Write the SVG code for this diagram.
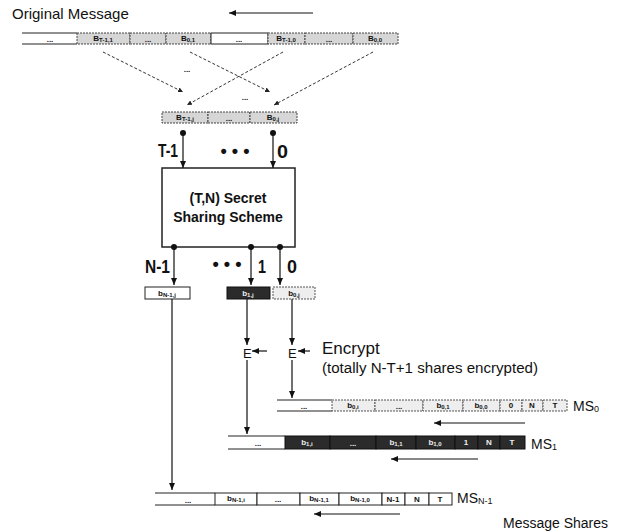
<svg xmlns="http://www.w3.org/2000/svg" width="621" height="531" viewBox="0 0 621 531">
<style>
text{font-family:"Liberation Sans",Arial,sans-serif;fill:#111}
.lbl{font-size:15px}
.big{font-size:18px;font-weight:bold}
.box{font-size:14px;font-weight:bold}
.c{font-size:8px;font-weight:bold;text-anchor:middle}
.cw{font-size:8px;font-weight:bold;text-anchor:middle;fill:#eee}
.s{font-size:6px}
.g{fill:#d6d6d6;stroke:#444;stroke-width:1;stroke-dasharray:2 1}
.lg{fill:#eeeeee;stroke:#555;stroke-width:1;stroke-dasharray:2 1}
.w{fill:#fff;stroke:#222;stroke-width:1}
.d{fill:#2b2b2b;stroke:#111;stroke-width:1}
.rail{stroke:#222;stroke-width:1;fill:none}
.ln{stroke:#111;stroke-width:1.2;fill:none}
.dash{stroke:#333;stroke-width:1;stroke-dasharray:3 2;fill:none}
</style>
<defs>
<marker id="ah" markerWidth="8" markerHeight="8" refX="7" refY="4" orient="auto" markerUnits="userSpaceOnUse"><path d="M0,1 L7,4 L0,7 z" fill="#111"/></marker>
<marker id="ahs" markerWidth="6" markerHeight="6" refX="5" refY="3" orient="auto" markerUnits="userSpaceOnUse"><path d="M0,0.5 L5,3 L0,5.5 z" fill="#222"/></marker>
</defs>

<g id="title">
<text class="lbl" x="12" y="19">Original Message</text>
</g>

<g id="original-message">
<path class="rail" d="M22,33 H77 M22,44 H77"/>
<text class="c" x="50" y="42">...</text>
<rect class="g" x="77" y="33" width="53" height="11"/>
<text class="c" x="103" y="41">B<tspan class="s" dy="1">T-1,1</tspan></text>
<rect class="g" x="130" y="33" width="36" height="11"/>
<text class="c" x="148" y="42">...</text>
<rect class="g" x="166" y="33" width="45" height="11"/>
<text class="c" x="188" y="41">B<tspan class="s" dy="1">0,1</tspan></text>
<rect class="w" x="211" y="33" width="57" height="11"/>
<text class="c" x="239" y="42">...</text>
<rect class="g" x="268" y="33" width="37" height="11"/>
<text class="c" x="286" y="41">B<tspan class="s" dy="1">T-1,0</tspan></text>
<rect class="g" x="305" y="33" width="48" height="11"/>
<text class="c" x="329" y="42">...</text>
<rect class="g" x="353" y="33" width="45" height="11"/>
<text class="c" x="375" y="41">B<tspan class="s" dy="1">0,0</tspan></text>
</g>

<g id="block-j">
<rect class="g" x="162" y="112" width="46" height="11"/>
<text class="c" x="185" y="120">B<tspan class="s" dy="1">T-1,j</tspan></text>
<rect class="g" x="208" y="112" width="42" height="11"/>
<text class="c" x="229" y="121">...</text>
<rect class="g" x="250" y="112" width="47" height="11"/>
<text class="c" x="273" y="120">B<tspan class="s" dy="1">0,j</tspan></text>
</g>

<g id="sss">
<rect x="162" y="168" width="133" height="79" fill="#fff" stroke="#222" stroke-width="1.5"/>
<text class="box" x="228" y="203" text-anchor="middle">(T,N) Secret</text>
<text class="box" x="228" y="222" text-anchor="middle">Sharing Scheme</text>
</g>

<g id="share-n1">
<rect class="w" x="145" y="287" width="45" height="12"/>
<text class="c" x="167" y="296">b<tspan class="s" dy="1">N-1,j</tspan></text>
</g>
<g id="share-1">
<rect class="d" x="227" y="287" width="43" height="12"/>
<text class="cw" x="248" y="296">b<tspan class="s" dy="1">1,j</tspan></text>
</g>
<g id="share-0">
<rect class="lg" x="273" y="287" width="42" height="12"/>
<text class="c" x="294" y="296">b<tspan class="s" dy="1">0,j</tspan></text>
</g>

<g id="encrypt-1"><text x="243" y="358" font-size="13">E</text></g>
<g id="encrypt-0"><text x="288" y="358" font-size="13">E</text></g>
<g id="encrypt-label">
<text x="322" y="354" font-size="17">Encrypt</text>
<text x="322" y="373" font-size="14" textLength="216" lengthAdjust="spacingAndGlyphs">(totally N-T+1 shares encrypted)</text>
</g>

<g id="ms0">
<path class="rail" d="M277,400 H332 M277,411 H332"/>
<text class="c" x="304" y="409">...</text>
<rect class="lg" x="332" y="400" width="43" height="11"/>
<text class="c" x="353" y="408">b<tspan class="s" dy="1">0,i</tspan></text>
<rect class="lg" x="375" y="400" width="48" height="11"/>
<text class="c" x="399" y="409">...</text>
<rect class="lg" x="423" y="400" width="40" height="11"/>
<text class="c" x="443" y="408">b<tspan class="s" dy="1">0,1</tspan></text>
<rect class="lg" x="463" y="400" width="37" height="11"/>
<text class="c" x="481" y="408">b<tspan class="s" dy="1">0,0</tspan></text>
<rect class="lg" x="500" y="400" width="22" height="11"/>
<text class="c" x="511" y="408">0</text>
<rect class="lg" x="522" y="400" width="21" height="11"/>
<text class="c" x="532" y="408">N</text>
<rect class="lg" x="543" y="400" width="24" height="11"/>
<text class="c" x="555" y="408">T</text>
<text x="573" y="411" font-size="14">MS<tspan font-size="9" dy="1">0</tspan></text>
</g>

<g id="ms1">
<path class="rail" d="M228,436 H285 M228,449 H285"/>
<text class="c" x="258" y="446">...</text>
<rect class="d" x="285" y="436" width="45" height="13"/>
<text class="cw" x="307" y="445">b<tspan class="s" dy="1">1,i</tspan></text>
<rect class="d" x="330" y="436" width="46" height="13"/>
<text class="cw" x="353" y="446">...</text>
<rect class="d" x="376" y="436" width="40" height="13"/>
<text class="cw" x="396" y="445">b<tspan class="s" dy="1">1,1</tspan></text>
<rect class="d" x="416" y="436" width="39" height="13"/>
<text class="cw" x="435" y="445">b<tspan class="s" dy="1">1,0</tspan></text>
<rect class="d" x="455" y="436" width="23" height="13"/>
<text class="cw" x="466" y="445">1</text>
<rect class="d" x="478" y="436" width="22" height="13"/>
<text class="cw" x="489" y="445">N</text>
<rect class="d" x="500" y="436" width="25" height="13"/>
<text class="cw" x="512" y="445">T</text>
<text x="531" y="449" font-size="14">MS<tspan font-size="9" dy="1">1</tspan></text>
</g>

<g id="msn1">
<path class="rail" d="M155,493 H215 M155,505 H215"/>
<text class="c" x="188" y="503">...</text>
<rect class="w" x="215" y="493" width="42" height="12"/>
<text class="c" x="236" y="501">b<tspan class="s" dy="1">N-1,i</tspan></text>
<rect class="w" x="257" y="493" width="43" height="12"/>
<text class="c" x="278" y="502">...</text>
<rect class="w" x="300" y="493" width="39" height="12"/>
<text class="c" x="319" y="501">b<tspan class="s" dy="1">N-1,1</tspan></text>
<rect class="w" x="339" y="493" width="43" height="12"/>
<text class="c" x="360" y="501">b<tspan class="s" dy="1">N-1,0</tspan></text>
<rect class="w" x="382" y="493" width="23" height="12"/>
<text class="c" x="393" y="502">N-1</text>
<rect class="w" x="405" y="493" width="24" height="12"/>
<text class="c" x="417" y="502">N</text>
<rect class="w" x="429" y="493" width="23" height="12"/>
<text class="c" x="440" y="502">T</text>
<text x="457" y="503" font-size="14">MS<tspan font-size="9" dy="1">N-1</tspan></text>
</g>

<g id="footer">
<text x="503" y="528" font-size="14">Message Shares</text>
</g>

<g id="connectors">
<path class="ln" d="M313,13 H229" marker-end="url(#ah)"/>
<path class="dash" d="M103,52 L183,92" marker-end="url(#ahs)"/>
<path class="dash" d="M190,52 L270,92" marker-end="url(#ahs)"/>
<path class="dash" d="M283,52 L187,105" marker-end="url(#ahs)"/>
<path class="dash" d="M373,52 L274,105" marker-end="url(#ahs)"/>
<text class="c" x="187" y="72" font-size="10">...</text>
<text class="c" x="245" y="100" font-size="10">...</text>

<circle cx="183" cy="133" r="3" fill="#111"/>
<circle cx="273" cy="133" r="3" fill="#111"/>
<path class="ln" d="M183,133 V168" marker-end="url(#ah)"/>
<path class="ln" d="M273,133 V168" marker-end="url(#ah)"/>
<text class="big" x="158" y="157" textLength="20" lengthAdjust="spacingAndGlyphs">T-1</text>
<text class="big" x="235" y="157" text-anchor="middle">• • •</text>
<text class="big" x="277" y="158" textLength="11" lengthAdjust="spacingAndGlyphs">0</text>

<circle cx="174" cy="247" r="3" fill="#111"/>
<circle cx="251" cy="247" r="3" fill="#111"/>
<circle cx="280" cy="247" r="3" fill="#111"/>
<path class="ln" d="M174,247 V285" marker-end="url(#ah)"/>
<path class="ln" d="M251,247 V285" marker-end="url(#ah)"/>
<path class="ln" d="M280,247 V285" marker-end="url(#ah)"/>
<text class="big" x="145" y="273" textLength="25" lengthAdjust="spacingAndGlyphs">N-1</text>
<text class="big" x="227" y="270" text-anchor="middle">• • •</text>
<text class="big" x="258" y="273" textLength="8" lengthAdjust="spacingAndGlyphs">1</text>
<text class="big" x="287" y="273" textLength="10" lengthAdjust="spacingAndGlyphs">0</text>

<path class="ln" d="M172,299 V490" marker-end="url(#ah)"/>
<path class="ln" d="M247,299 V345" marker-end="url(#ah)"/>
<path class="ln" d="M247,360 V434" marker-end="url(#ah)"/>
<path class="ln" d="M292,299 V345" marker-end="url(#ah)"/>
<path class="ln" d="M292,360 V398" marker-end="url(#ah)"/>
<path class="ln" d="M267,351 H252" marker-end="url(#ah)"/>
<path class="ln" d="M310,351 H298" marker-end="url(#ah)"/>

<path class="ln" d="M525,423 H434" marker-end="url(#ah)"/>
<path class="ln" d="M478,459 H391" marker-end="url(#ah)"/>
<path class="ln" d="M400,514 H314" marker-end="url(#ah)"/>
</g>
</svg>
